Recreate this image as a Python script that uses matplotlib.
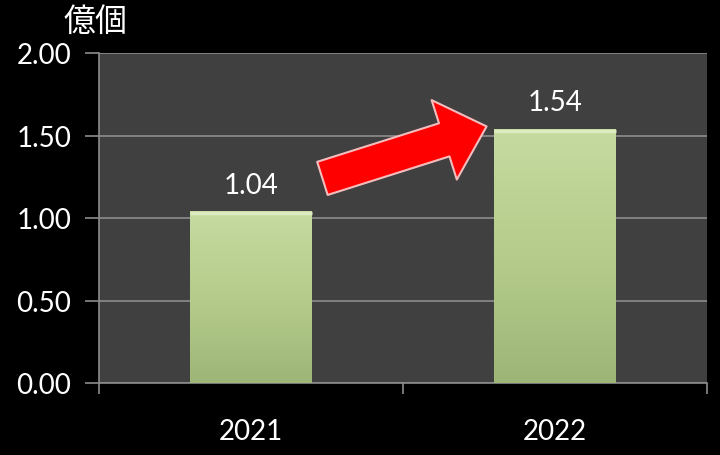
import matplotlib
matplotlib.use("Agg")
import matplotlib.pyplot as plt
import numpy as np
from matplotlib.colors import LinearSegmentedColormap

categories = ["2021", "2022"]
values = [1.04, 1.54]
value_labels = ["1.04", "1.54"]
yticks = [0.0, 0.5, 1.0, 1.5, 2.0]
ytick_labels = ["0.00", "0.50", "1.00", "1.50", "2.00"]
unit_label = "億個"

plt.rcParams['font.family'] = ['Lato', 'Noto Sans CJK JP', 'DejaVu Sans']

fig = plt.figure(figsize=(7.2, 4.56), dpi=100, facecolor='black')
ax = fig.add_axes([99/720, 1 - 384/456, (707-99)/720, (384-54)/456])
ax.set_facecolor('#404040')

x = np.arange(len(categories))
bars = ax.bar(x, values, width=0.40, color='#c3d69b', edgecolor='none', zorder=3)

# gradient fill on bars
cmap = LinearSegmentedColormap.from_list('g', ['#9db677', '#b5cc8c', '#c6dba0'])
grad = np.linspace(0, 1, 256).reshape(-1, 1)
for b in bars:
    x0, y0 = b.get_x(), b.get_y()
    w, h = b.get_width(), b.get_height()
    im = ax.imshow(grad, extent=[x0, x0 + w, y0, y0 + h], origin='lower',
                   cmap=cmap, aspect='auto', zorder=3.1)
    im.set_clip_path(b)
    # top highlight bevel
    ax.plot([x0, x0 + w], [y0 + h - 0.01, y0 + h - 0.01], color='#dcecc0',
            lw=2.5, zorder=3.2, solid_capstyle='butt')
ax.set_xlim(-0.5, len(categories) - 0.5)
ax.set_ylim(0, 2.0)

for xi, v, lab in zip(x, values, value_labels):
    ax.annotate(lab, (xi, v), xytext=(0, 10), textcoords='offset points',
                ha='center', va='bottom', color='white', fontsize=20)

ax.set_yticks(yticks)
ax.set_yticklabels(ytick_labels)
ax.set_xticks(x)
ax.set_xticklabels(categories)
ax.set_xticks([-0.5, 0.5, 1.5], minor=True)
ax.tick_params(axis='x', which='major', length=0, pad=25, labelsize=20, labelcolor='white')
ax.tick_params(axis='x', which='minor', length=8, color='#8c8c8c', width=1.2)
ax.tick_params(axis='y', length=10, color='#8c8c8c', width=1.2, labelsize=20,
               labelcolor='white', pad=10)

ax.grid(axis='y', color='#8c8c8c', lw=1.2, zorder=1)
for s in ['top', 'right']:
    ax.spines[s].set_visible(False)
for s in ['left', 'bottom']:
    ax.spines[s].set_color('#8c8c8c')
    ax.spines[s].set_linewidth(1.2)

fig.text(95/720, 1 - 22/456, unit_label, ha='center', va='center',
         color='white', fontsize=23, family=['Noto Sans CJK JP', 'DejaVu Sans'])

# red arrow annotation between bars
ax.annotate('', xy=(0.775, 1.555), xytext=(0.235, 1.24),
            arrowprops=dict(arrowstyle='simple,head_width=60,head_length=32,tail_width=25',
                            mutation_scale=1, facecolor='#ff0000',
                            edgecolor='#f4bcbc', lw=1.5, shrinkA=0, shrinkB=0),
            zorder=5)

fig.savefig('out.png', dpi=100, facecolor='black')
